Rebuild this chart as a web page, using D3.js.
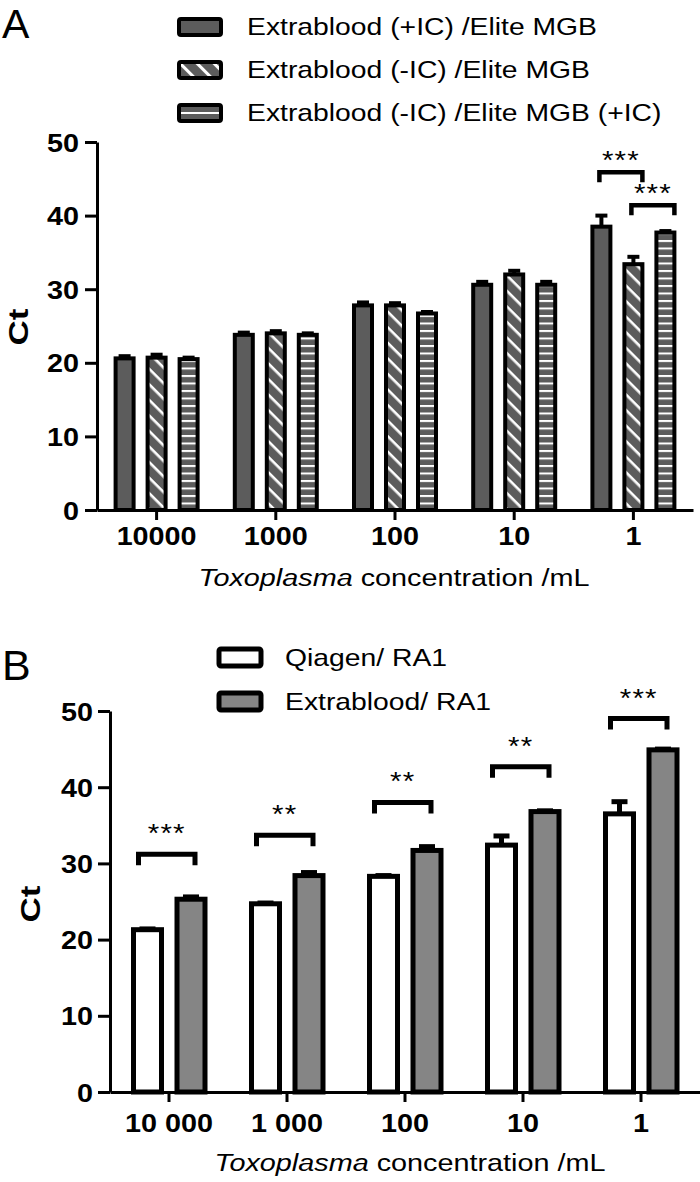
<!DOCTYPE html>
<html><head><meta charset="utf-8">
<script src="https://cdn.jsdelivr.net/npm/d3@7"></script>
<style>
html,body{margin:0;padding:0;background:#fff;}
svg{display:block;}
text{font-family:"Liberation Sans",Arial,sans-serif;}
</style></head>
<body>
<svg id="chart" width="700" height="1182"></svg>
<script>
// ---------- Panel A data ----------
const catsA = ["10000", "1000", "100", "10", "1"];
const seriesA = ["Extrablood (+IC) /Elite MGB", "Extrablood (-IC) /Elite MGB", "Extrablood (-IC) /Elite MGB (+IC)"];
const valsA1 = [20.6, 23.8, 27.8, 30.6, 38.5];
const valsA2 = [20.7, 24.0, 27.8, 32.0, 33.4];
const valsA3 = [20.5, 23.8, 26.7, 30.6, 37.7];
const errA1 = [0.3, 0.3, 0.4, 0.4, 1.5];
const errA2 = [0.4, 0.3, 0.3, 0.5, 1.0];
const errA3 = [0.2, 0.2, 0.2, 0.4, 0.2];
const sigA_cat = ["1", "1"];
const sigA_from = [0, 1];
const sigA_to = [1, 2];
const sigA_level = [45.9, 41.4];
const sigA_label = ["***", "***"];
const yTicksA = [0, 10, 20, 30, 40, 50];

// ---------- Panel B data ----------
const catsB = ["10 000", "1 000", "100", "10", "1"];
const seriesB = ["Qiagen/ RA1", "Extrablood/ RA1"];
const valsB1 = [21.3, 24.7, 28.3, 32.4, 36.5];
const valsB2 = [25.3, 28.4, 31.7, 36.8, 44.9];
const errB1 = [0.1, 0.1, 0.1, 1.2, 1.6];
const errB2 = [0.3, 0.4, 0.5, 0.1, 0.1];
const sigB_level = [31.2, 33.7, 38.0, 42.7, 49.0];
const sigB_label = ["***", "**", "**", "**", "***"];
const yTicksB = [0, 10, 20, 30, 40, 50];

const svg = d3.select("#chart");
const defs = svg.append("defs");
const darkA = "#5c5c5c";
const grayB = "#858585";
const S = 1.18; // horizontal stretch of the lettering

function stext(parent, x, y, size, str, opts = {}) {
  const t = parent.append("text")
    .attr("transform", `translate(${x},${y}) ${opts.rotate ? "rotate(" + opts.rotate + ")" : ""} scale(${opts.s || S},1)`)
    .attr("font-size", size);
  if (opts.anchor) t.attr("text-anchor", opts.anchor);
  if (opts.bold) t.attr("font-weight", "bold");
  if (opts.ls) t.attr("letter-spacing", opts.ls);
  if (str !== null) t.text(str);
  return t;
}

function diagPattern(id, spacing, sw) {
  const p = defs.append("pattern").attr("id", id).attr("patternUnits", "userSpaceOnUse")
    .attr("width", spacing).attr("height", spacing).attr("patternTransform", "rotate(45)");
  p.append("rect").attr("width", spacing).attr("height", spacing).attr("fill", darkA);
  p.append("rect").attr("x", 0).attr("y", 0).attr("width", spacing).attr("height", sw).attr("fill", "#fff");
}
function horizPattern(id, spacing, sw) {
  const p = defs.append("pattern").attr("id", id).attr("patternUnits", "userSpaceOnUse")
    .attr("width", 10).attr("height", spacing);
  p.append("rect").attr("width", 10).attr("height", spacing).attr("fill", darkA);
  p.append("rect").attr("x", 0).attr("y", 0).attr("width", 10).attr("height", sw).attr("fill", "#fff");
}
diagPattern("diagA", 11, 2.6);
horizPattern("horizA", 7.5, 2);
diagPattern("diagL", 12, 3);

const fillsA = [darkA, "url(#diagA)", "url(#horizA)"];

function styleAxis(a, left, pad) {
  a.select(".domain").attr("stroke", "#000").attr("stroke-width", 3);
  a.selectAll(".tick line").attr("stroke", "#000").attr("stroke-width", 3);
  const tt = a.selectAll(".tick text").attr("font-size", 25).attr("font-weight", "bold").attr("fill", "#000")
    .attr("font-family", "Liberation Sans, Arial, sans-serif")
    .attr("transform", `scale(${1.15},1)`);
  if (left) tt.attr("x", -(12 + pad) / 1.15).attr("dy", "0.36em");
}

// ---------- Panel A ----------
const yA = d3.scaleLinear().domain([0, 50]).range([510, 142]);
const xA = d3.scaleBand().domain(catsA).range([97, 693]);
const offA = d3.scaleBand().domain([0, 1, 2]).range([-48, 48]);
const valsA = [valsA1, valsA2, valsA3];
const errsA = [errA1, errA2, errA3];

const gA = svg.append("g");
valsA.forEach((vals, s) => {
  const cx = c => xA(c) + xA.bandwidth() / 2 + offA(s) + offA.bandwidth() / 2;
  const data = catsA.map((c, i) => ({c, v: vals[i], e: errsA[s][i]}));
  gA.selectAll(null).data(data).enter().append("line")
    .attr("x1", d => cx(d.c)).attr("x2", d => cx(d.c))
    .attr("y1", d => yA(d.v)).attr("y2", d => yA(d.v + d.e))
    .attr("stroke", "#000").attr("stroke-width", 4);
  gA.selectAll(null).data(data).enter().append("line")
    .attr("x1", d => cx(d.c) - 6).attr("x2", d => cx(d.c) + 6)
    .attr("y1", d => yA(d.v + d.e)).attr("y2", d => yA(d.v + d.e))
    .attr("stroke", "#000").attr("stroke-width", 4);
  gA.selectAll(null).data(data).enter().append("rect")
    .attr("x", d => cx(d.c) - 9).attr("width", 18)
    .attr("y", d => yA(d.v)).attr("height", d => yA(0) - yA(d.v))
    .attr("fill", fillsA[s]).attr("stroke", "#000").attr("stroke-width", 4);
});
sigA_level.forEach((lv, i) => {
  const c = sigA_cat[i];
  const x1 = xA(c) + xA.bandwidth() / 2 + offA(sigA_from[i]) + offA.bandwidth() / 2 - 2;
  const x2 = xA(c) + xA.bandwidth() / 2 + offA(sigA_to[i]) + offA.bandwidth() / 2 + 9;
  const y = yA(lv);
  gA.append("path").attr("d", `M${x1},${y + 10}V${y}H${x2}V${y + 10}`)
    .attr("fill", "none").attr("stroke", "#000").attr("stroke-width", 4.5);
  stext(gA, (x1 + x2) / 2, y - 3, 25, sigA_label[i], {anchor: "middle", ls: 1});
});

const axYA = gA.append("g").attr("transform", "translate(97,0)")
  .call(d3.axisLeft(yA).tickValues(yTicksA).tickSize(12).tickSizeOuter(0).tickPadding(6));
const axXA = gA.append("g").attr("transform", "translate(0,510)")
  .call(d3.axisBottom(xA).tickSize(10).tickSizeOuter(0).tickPadding(7));
styleAxis(axYA, true, 6);
styleAxis(axXA, false, 7);
stext(gA, 28, 327, 28, "Ct", {anchor: "middle", bold: true, rotate: -90, s: 1.25});
const tA = stext(gA, 394, 586, 24, null, {anchor: "middle", s: 1.2});
tA.append("tspan").attr("font-style", "italic").text("Toxoplasma");
tA.append("tspan").text(" concentration /mL");
gA.append("text").attr("x", 2).attr("y", 38).attr("font-size", 41).text("A");

seriesA.forEach((s, i) => {
  const y = 27 + i * 43;
  const lg = gA.append("g");
  lg.append("rect").attr("x", 179).attr("y", y - 8).attr("width", 42).attr("height", 16).attr("rx", 2)
    .attr("fill", i === 1 ? "url(#diagL)" : darkA).attr("stroke", "#000").attr("stroke-width", 4);
  if (i === 2) lg.append("line").attr("x1", 181).attr("x2", 219).attr("y1", y).attr("y2", y)
    .attr("stroke", "#fff").attr("stroke-width", 2);
  stext(lg, 247, y + 8, 24, s, {s: 1.18});
});

// ---------- Panel B ----------
const yB = d3.scaleLinear().domain([0, 50]).range([1092, 711]);
const xB = d3.scaleBand().domain(catsB).range([110, 700]);
const offB = [-21.5, 22];
const fillsB = ["#fff", grayB];
const valsB = [valsB1, valsB2];
const errsB = [errB1, errB2];
const gB = svg.append("g");
valsB.forEach((vals, s) => {
  const cx = c => xB(c) + xB.bandwidth() / 2 + offB[s];
  const data = catsB.map((c, i) => ({c, v: vals[i], e: errsB[s][i]}));
  gB.selectAll(null).data(data).enter().append("line")
    .attr("x1", d => cx(d.c)).attr("x2", d => cx(d.c))
    .attr("y1", d => yB(d.v)).attr("y2", d => yB(d.v + d.e))
    .attr("stroke", "#000").attr("stroke-width", 5);
  gB.selectAll(null).data(data).enter().append("line")
    .attr("x1", d => cx(d.c) - 8).attr("x2", d => cx(d.c) + 8)
    .attr("y1", d => yB(d.v + d.e)).attr("y2", d => yB(d.v + d.e))
    .attr("stroke", "#000").attr("stroke-width", 5);
  gB.selectAll(null).data(data).enter().append("rect")
    .attr("x", d => cx(d.c) - 14).attr("width", 28)
    .attr("y", d => yB(d.v)).attr("height", d => yB(0) - yB(d.v))
    .attr("fill", fillsB[s]).attr("stroke", "#000").attr("stroke-width", 5);
});
sigB_level.forEach((lv, i) => {
  const c = catsB[i];
  const x1 = xB(c) + xB.bandwidth() / 2 + offB[0] - 9;
  const x2 = xB(c) + xB.bandwidth() / 2 + offB[1] + 4;
  const y = yB(lv);
  gB.append("path").attr("d", `M${x1},${y + 11}V${y}H${x2}V${y + 11}`)
    .attr("fill", "none").attr("stroke", "#000").attr("stroke-width", 5);
  stext(gB, (x1 + x2) / 2, y - 12, 25, sigB_label[i], {anchor: "middle", ls: 1});
});
const axYB = gB.append("g").attr("transform", "translate(110,0)")
  .call(d3.axisLeft(yB).tickValues(yTicksB).tickSize(12).tickSizeOuter(0).tickPadding(5));
const axXB = gB.append("g").attr("transform", "translate(0,1092)")
  .call(d3.axisBottom(xB).tickSize(10).tickSizeOuter(0).tickPadding(12));
styleAxis(axYB, true, 5);
styleAxis(axXB, false, 12);
stext(gB, 40, 904, 28, "Ct", {anchor: "middle", bold: true, rotate: -90, s: 1.25});
const tB = stext(gB, 410, 1171, 24, null, {anchor: "middle", s: 1.2});
tB.append("tspan").attr("font-style", "italic").text("Toxoplasma");
tB.append("tspan").text(" concentration /mL");
gB.append("text").attr("x", 2).attr("y", 680).attr("font-size", 43).text("B");

seriesB.forEach((s, i) => {
  const y = 657 + i * 44;
  gB.append("rect").attr("x", 219).attr("y", y - 8).attr("width", 42).attr("height", 17).attr("rx", 2)
    .attr("fill", fillsB[i]).attr("stroke", "#000").attr("stroke-width", 5);
  stext(gB, 285, y + 9, 24, s, {s: 1.18});
});
</script>
</body></html>
